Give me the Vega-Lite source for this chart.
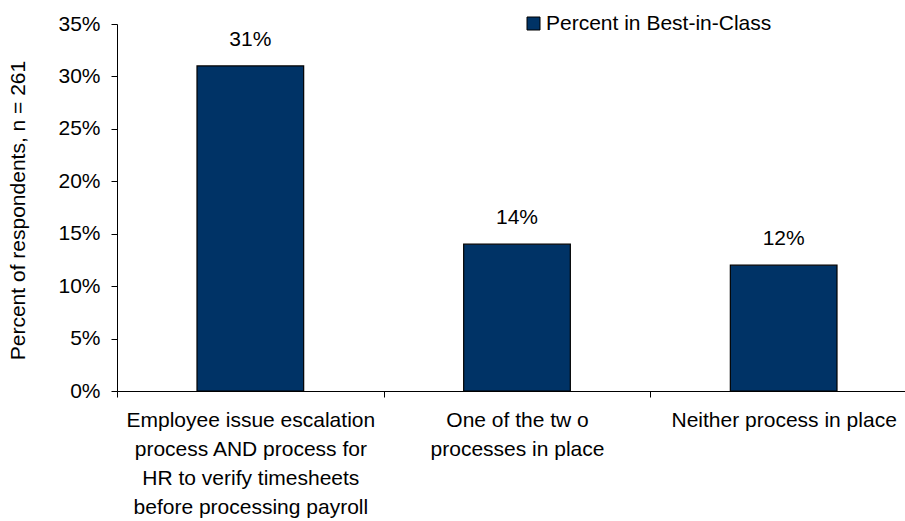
{
  "$schema": "https://vega.github.io/schema/vega-lite/v6.json",
  "width": 788,
  "height": 367,
  "autosize": "none",
  "padding": {"left": 117, "top": 24, "right": 0, "bottom": 130},
  "background": "white",
  "config": {
    "view": {"stroke": null},
    "font": "Liberation Sans",
    "axis": {"grid": false, "domainColor": "black", "tickColor": "black", "labelColor": "black", "titleColor": "black", "labelFont": "Liberation Sans", "titleFont": "Liberation Sans"}
  },
  "data": {
    "values": [
      {"category": "Employee issue escalation|process AND process for|HR to verify timesheets|before processing payroll", "series": "Percent in Best-in-Class", "value": 0.31, "label": "31%"},
      {"category": "One of the tw o|processes in place", "series": "Percent in Best-in-Class", "value": 0.14, "label": "14%"},
      {"category": "Neither process in place", "series": "Percent in Best-in-Class", "value": 0.12, "label": "12%"}
    ]
  },
  "encoding": {
    "x": {
      "field": "category",
      "type": "nominal",
      "sort": null,
      "scale": {"range": [0, 800], "paddingInner": 0, "paddingOuter": 0},
      "axis": {
        "title": null,
        "labelAngle": 0,
        "labelExpr": "split(datum.label, '|')",
        "labelFontSize": 21,
        "labelLineHeight": 29.3,
        "labelPadding": 12,
        "labelLimit": 0,
        "tickBand": "extent",
        "tickSize": 6,
        "domainWidth": 1
      }
    }
  },
  "layer": [
    {
      "mark": {"type": "bar", "width": {"band": 0.4}, "stroke": "black", "strokeWidth": 1.2},
      "encoding": {
        "y": {
          "field": "value",
          "type": "quantitative",
          "scale": {"domain": [0, 0.35]},
          "axis": {
            "title": "Percent of respondents, n = 261",
            "values": [0, 0.05, 0.1, 0.15, 0.2, 0.25, 0.3, 0.35],
            "format": ".0%",
            "labelFontSize": 21,
            "labelPadding": 11,
            "tickSize": 6,
            "titleFontSize": 21,
            "titleFontWeight": "normal",
            "titleX": -99,
            "titleY": 186,
            "titleAngle": -90,
            "titleAlign": "center",
            "titleBaseline": "middle"
          }
        },
        "color": {
          "field": "series",
          "type": "nominal",
          "scale": {"range": ["#003366"]},
          "legend": {
            "title": null,
            "orient": "none",
            "legendX": 406,
            "legendY": -11,
            "symbolType": "square",
            "symbolSize": 169,
            "symbolStrokeColor": "black",
            "symbolStrokeWidth": 1,
            "labelFontSize": 21,
            "labelLimit": 0,
            "labelColor": "black",
            "labelOffset": 2,
            "labelFont": "Liberation Sans"
          }
        }
      }
    },
    {
      "mark": {"type": "text", "fontSize": 21, "baseline": "alphabetic", "dy": -20, "color": "black"},
      "encoding": {
        "y": {"field": "value", "type": "quantitative"},
        "text": {"field": "label"}
      }
    }
  ]
}
